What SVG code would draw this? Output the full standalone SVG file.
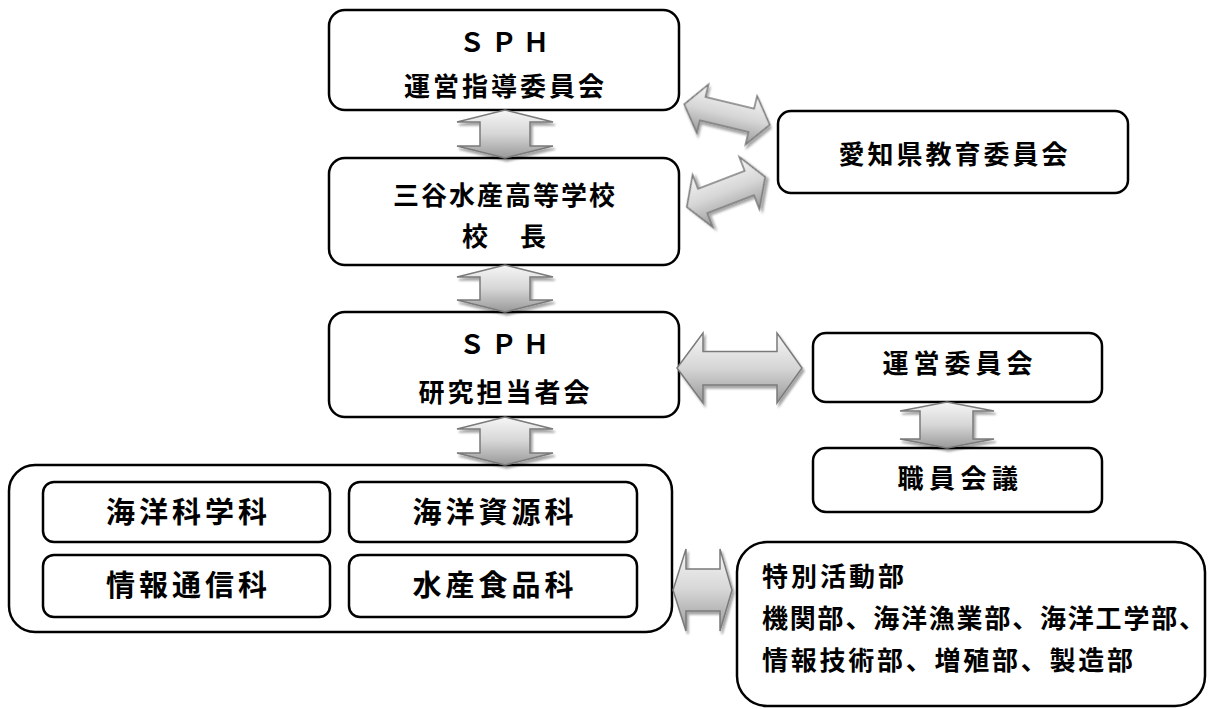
<svg xmlns="http://www.w3.org/2000/svg" width="1211" height="709" viewBox="0 0 1211 709">
<defs>
<linearGradient id="ag" x1="0" y1="0" x2="0" y2="1">
<stop offset="0" stop-color="#f6f6f6"/>
<stop offset="0.5" stop-color="#d6d6d6"/>
<stop offset="1" stop-color="#999999"/>
</linearGradient>
<filter id="sh" x="-20%" y="-20%" width="150%" height="150%">
<feGaussianBlur in="SourceAlpha" stdDeviation="1.2"/>
<feOffset dx="2" dy="2.5" result="o"/>
<feFlood flood-color="#000" flood-opacity="0.35"/>
<feComposite in2="o" operator="in"/>
<feMerge><feMergeNode/><feMergeNode in="SourceGraphic"/></feMerge>
</filter>
</defs>
<style>
.box{fill:#fff;stroke:#000;stroke-width:2.5}
.arr{fill:url(#ag);stroke:#7a7a7a;stroke-width:1.5;stroke-linejoin:miter;filter:url(#sh)}
text{font-family:"Noto Sans CJK JP","Noto Sans CJK SC",sans-serif;font-weight:700;fill:#000;font-size:26px}
.c{text-anchor:middle}
.big{font-size:29px;letter-spacing:4px}
</style>
<rect width="1211" height="709" fill="#fff"/>

<g id="sph-steering">
<rect class="box" x="329" y="10" width="350" height="100" rx="16"/>
<text class="c" x="507" y="52" style="letter-spacing:6px">ＳＰＨ</text>
<text class="c" x="505.5" y="96" style="letter-spacing:3px">運営指導委員会</text>
</g>
<g id="principal">
<rect class="box" x="329" y="158" width="350" height="107" rx="16"/>
<text class="c" x="505" y="205" style="letter-spacing:2px">三谷水産高等学校</text>
<text class="c" x="505.5" y="246" style="letter-spacing:3px">校　長</text>
</g>
<g id="sph-research">
<rect class="box" x="329" y="312" width="350" height="105" rx="16"/>
<text class="c" x="507" y="354" style="letter-spacing:6px">ＳＰＨ</text>
<text class="c" x="505.5" y="402" style="letter-spacing:3px">研究担当者会</text>
</g>
<g id="departments">
<rect class="box" x="9" y="465" width="663" height="167" rx="26"/>
<g id="dept-marine-science">
<rect class="box" x="43" y="482" width="287" height="60" rx="11"/>
<text class="c big" x="188.5" y="523">海洋科学科</text>
</g>
<g id="dept-marine-resources">
<rect class="box" x="349" y="482" width="288" height="60" rx="11"/>
<text class="c big" x="495" y="523">海洋資源科</text>
</g>
<g id="dept-info-comm">
<rect class="box" x="43" y="555" width="287" height="62" rx="11"/>
<text class="c big" x="188.5" y="596">情報通信科</text>
</g>
<g id="dept-food">
<rect class="box" x="349" y="555" width="288" height="62" rx="11"/>
<text class="c big" x="495" y="596">水産食品科</text>
</g>
</g>
<g id="aichi-board">
<rect class="box" x="778" y="111" width="350" height="82" rx="13"/>
<text class="c" x="954.5" y="164" style="letter-spacing:3px">愛知県教育委員会</text>
</g>
<g id="management-committee">
<rect class="box" x="813" y="333" width="289" height="69" rx="13"/>
<text class="c" x="960" y="373" style="letter-spacing:5px">運営委員会</text>
</g>
<g id="staff-meeting">
<rect class="box" x="813" y="448" width="289" height="64" rx="13"/>
<text class="c" x="960.5" y="488" style="letter-spacing:5.5px">職員会議</text>
</g>
<g id="special-activities">
<rect class="box" x="737" y="542" width="468" height="164" rx="30"/>
<text x="762" y="586" style="letter-spacing:3px">特別活動部</text>
<text x="762" y="628" style="letter-spacing:1.8px">機関部、海洋漁業部、海洋工学部、</text>
<text x="762" y="670" style="letter-spacing:2.75px">情報技術部、増殖部、製造部</text>
</g>

<g id="connectors">
<path class="arr" d="M505,110 L553,122 L530,122 L530,146 L553,146 L505,158 L457,146 L480,146 L480,122 L457,122 Z"/>
<path class="arr" d="M505,265 L553,277 L530,277 L530,300 L553,300 L505,312 L457,300 L480,300 L480,277 L457,277 Z"/>
<path class="arr" d="M505,417 L553,429 L530,429 L530,453 L553,453 L505,465 L457,453 L480,453 L480,429 L457,429 Z"/>
<path class="arr" d="M947,402 L994,411 L973,411 L973,439 L994,439 L947,448 L900,439 L920,439 L920,411 L900,411 Z"/>
<path class="arr" d="M677,368 L703,333 L703,351.5 L777,351.5 L777,333 L802,368 L777,403 L777,385 L703,385 L703,403 Z"/>
<path class="arr" d="M673,590 L686,549 L686,569 L720,569 L720,549 L732,590 L720,631 L720,611 L686,611 L686,631 Z"/>
<path class="arr" transform="translate(727,114.5) rotate(13.5)" d="M-44,0 L-25,-25 L-25,-12 L25,-12 L25,-25 L44,0 L25,25 L25,12 L-25,12 L-25,25 Z"/>
<path class="arr" transform="translate(726,192) rotate(-21)" d="M-42,0 L-25,-28 L-25,-13 L25,-13 L25,-28 L42,0 L25,28 L25,13 L-25,13 L-25,28 Z"/>
</g>
</svg>
